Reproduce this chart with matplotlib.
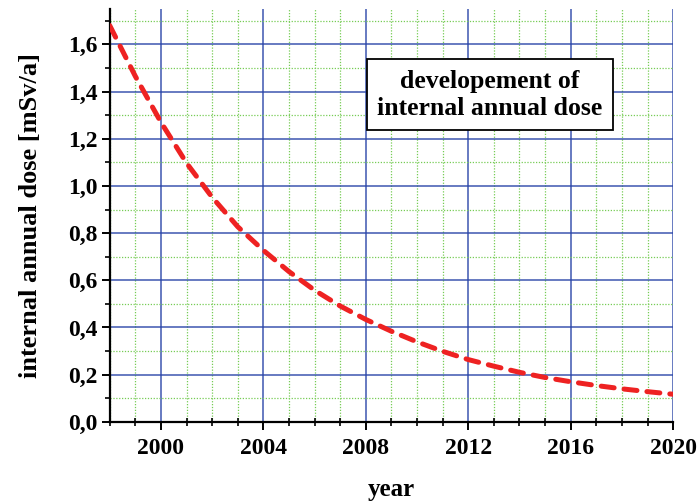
import matplotlib
matplotlib.use('Agg')
import matplotlib.pyplot as plt
from matplotlib.ticker import MultipleLocator, FuncFormatter

# jahresdosis (intern) je jahr
jahre = [1998, 1999, 2000, 2001, 2002, 2003, 2004, 2005, 2006, 2007, 2008,
         2009, 2010, 2011, 2012, 2013, 2014, 2015, 2016, 2017, 2018, 2019, 2020]
dosis = [1.68, 1.465, 1.27, 1.097, 0.952, 0.827, 0.727, 0.637, 0.558, 0.491, 0.434,
         0.384, 0.339, 0.299, 0.264, 0.236, 0.210, 0.188, 0.170, 0.154, 0.140, 0.128, 0.117]

titel = 'developement of\ninternal annual dose'
x_titel = 'year'
y_titel = 'internal annual dose [mSv/a]'

plt.rcParams['font.family'] = 'Liberation Serif'
plt.rcParams['font.weight'] = 'bold'

fig = plt.figure(figsize=(6.99, 5.04), dpi=100)
ax = fig.add_axes([0.157, 0.163, 0.806, 0.819])

ax.plot(jahre, dosis, color='#ee2222', lw=3.6, linestyle=(0, (2.6, 2.0)),
        dash_capstyle='round', zorder=3)

ax.set_xlim(1998, 2020)
ax.set_ylim(0, 1.75)
ax.xaxis.set_major_locator(MultipleLocator(4))
ax.xaxis.set_minor_locator(MultipleLocator(1))
ax.yaxis.set_major_locator(MultipleLocator(0.2))
ax.yaxis.set_minor_locator(MultipleLocator(0.1))
ax.yaxis.set_major_formatter(FuncFormatter(lambda v, p: f'{v:.1f}'.replace('.', ',')))

# gitter: blau fuer haupt-, gruen gepunktet fuer nebenteilung
ax.grid(which='major', color='#2844a8', lw=1.1, alpha=0.9)
ax.grid(which='minor', color='#77cc55', lw=0.9, linestyle=(0, (1, 1.3)))
ax.set_axisbelow(True)

for s in ['top', 'right']:
    ax.spines[s].set_visible(False)
for s in ['left', 'bottom']:
    ax.spines[s].set_linewidth(1.6)

ax.tick_params(which='major', direction='out', length=5.5, width=1.4, labelsize=17, pad=3)
ax.tick_params(which='minor', direction='out', length=3.6, width=1.2)
ax.tick_params(axis='x', which='minor', direction='inout', length=6)
ax.tick_params(axis='x', which='major', pad=6)

ax.set_xlabel(x_titel, fontsize=18, fontweight='bold', labelpad=14)
ax.set_ylabel(y_titel, fontsize=19, fontweight='bold', labelpad=19)

ax.text(0.675, 0.792, titel, transform=ax.transAxes, ha='center', va='center',
        fontsize=18.5, fontweight='bold', linespacing=1.25,
        bbox=dict(boxstyle='square,pad=0.4', fc='white', ec='black', lw=1.3))

fig.savefig('out.png', dpi=100)
